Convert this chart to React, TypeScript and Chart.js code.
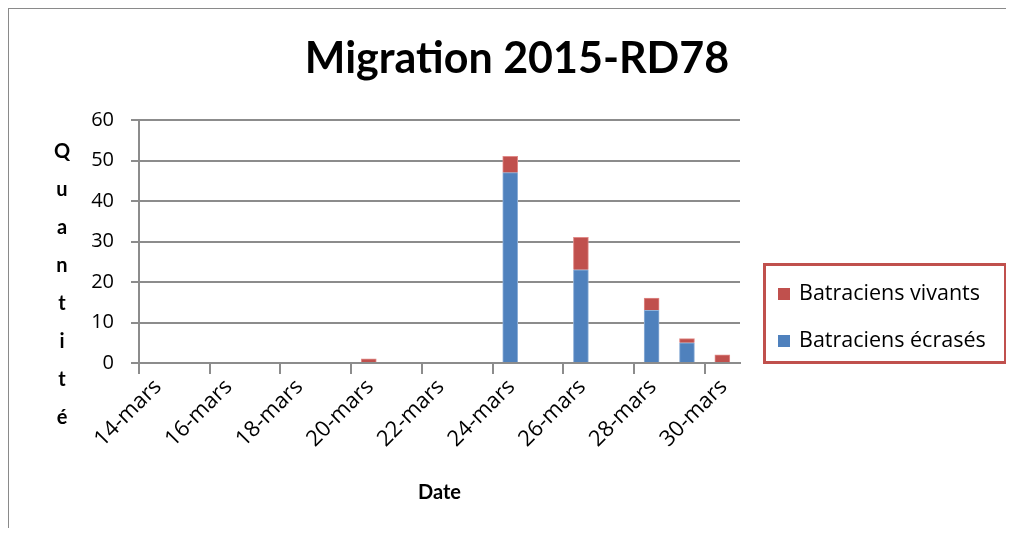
import React, { useEffect, useRef } from "react";
import { Chart, registerables } from "chart.js";

Chart.register(...registerables);

// ---- data ----
const barDays = [20, 24, 26, 28, 29, 30]; // day of March
const ecrases = [0, 47, 23, 13, 5, 0];
const vivants = [1, 4, 8, 3, 1, 2];
const axisFirstDay = 14;
const axisLastDay = 31;
const monthLabel = "mars";
const titleText = "Migration 2015-RD78";
const yTitleText = "Quantité";
const xTitleText = "Date";
const seriesEcrases = "Batraciens écrasés";
const seriesVivants = "Batraciens vivants";

const BLUE = "#4f81bd";
const RED = "#c0504d";
const GRID = "#8c8c8c";
const FONT = "Lato, 'Open Sans', sans-serif";
const FONT2 = "'Open Sans', Lato, sans-serif";

const decorPlugin = {
  id: "decor",
  afterDraw(chart: any) {
    const ctx = chart.ctx as CanvasRenderingContext2D;
    ctx.save();
    // title
    ctx.fillStyle = "#000";
    ctx.font = `bold 43px ${FONT}`;
    ctx.textAlign = "center";
    ctx.textBaseline = "alphabetic";
    ctx.fillText(titleText, 508, 64);
    // vertical y title
    ctx.font = `bold 20px ${FONT}`;
    ctx.textBaseline = "middle";
    const letters = Array.from(yTitleText);
    letters.forEach((ch, i) => {
      ctx.fillText(ch, 53, 143 + i * 37.9);
    });
    // legend
    ctx.strokeStyle = RED;
    ctx.lineWidth = 3;
    ctx.strokeRect(755.5, 255.5, 241, 98);
    const items = [
      { label: seriesVivants, color: RED, y: 285 },
      { label: seriesEcrases, color: BLUE, y: 332 },
    ];
    ctx.textAlign = "left";
    ctx.font = `21.5px ${FONT2}`;
    items.forEach((it) => {
      ctx.fillStyle = it.color;
      ctx.fillRect(769, it.y - 6, 12, 12);
      ctx.fillStyle = "#000";
      ctx.fillText(it.label, 790, it.y);
    });
    ctx.restore();
  },
};

export default function App() {
  const ref = useRef<HTMLCanvasElement>(null);
  useEffect(() => {
    if (!ref.current) return;
    const chart = new Chart(ref.current, {
      type: "bar",
      data: {
        datasets: [
          {
            label: seriesEcrases,
            data: barDays.map((d, i) => ({ x: d + 0.5, y: ecrases[i] })),
            backgroundColor: BLUE,
            borderColor: "#8fb0d8",
            borderWidth: 1,
            barThickness: 15,
          },
          {
            label: seriesVivants,
            data: barDays.map((d, i) => ({ x: d + 0.5, y: vivants[i] })),
            backgroundColor: RED,
            borderColor: "#e08a88",
            borderWidth: 1,
            barThickness: 15,
          },
        ],
      },
      options: {
        responsive: false,
        animation: false,
        layout: { padding: { top: 111, right: 269, left: 0, bottom: 0 } },
        plugins: {
          legend: { display: false },
          title: { display: false },
          tooltip: { enabled: false },
        },
        scales: {
          x: {
            type: "linear",
            stacked: true,
            offset: false,
            min: axisFirstDay,
            max: axisLastDay,
            afterFit: (s: any) => {
              s.height = 165;
            },
            grid: {
              display: true,
              offset: false,
              drawOnChartArea: false,
              drawTicks: true,
              tickLength: 11,
              color: GRID,
              lineWidth: 2,
            },
            border: { display: true, color: GRID, width: 2 },
            ticks: {
              stepSize: 2,
              includeBounds: false,
              minRotation: 45,
              maxRotation: 45,
              autoSkip: false,
              color: "#000",
              font: { family: FONT2, size: 22 },
              padding: 0,
              labelOffset: 19,
              callback: (v: any) => `${v}-${monthLabel}`,
            },
            title: {
              display: true,
              text: xTitleText,
              color: "#000",
              font: { family: FONT, size: 20, weight: "bold" },
              padding: { top: 0, bottom: 23 },
            },
          },
          y: {
            stacked: true,
            min: 0,
            max: 60,
            afterFit: (s: any) => {
              s.width = 130;
            },
            grid: {
              color: GRID,
              lineWidth: 2,
              tickLength: 8,
            },
            border: { display: true, color: GRID, width: 2 },
            ticks: {
              stepSize: 10,
              color: "#000",
              font: { family: FONT2, size: 20 },
              padding: 17,
            },
          },
        },
      },
      plugins: [decorPlugin],
    } as any);
    return () => chart.destroy();
  }, []);
  return (
    <div
      style={{
        marginLeft: -1,
        marginTop: -1,
        borderTop: "2px solid #8a8a8a",
        borderLeft: "2px solid #8a8a8a",
        width: 1000,
        height: 519,
      }}
    >
      <canvas ref={ref} width={1000} height={519} style={{ display: "block" }} />
    </div>
  );
}
